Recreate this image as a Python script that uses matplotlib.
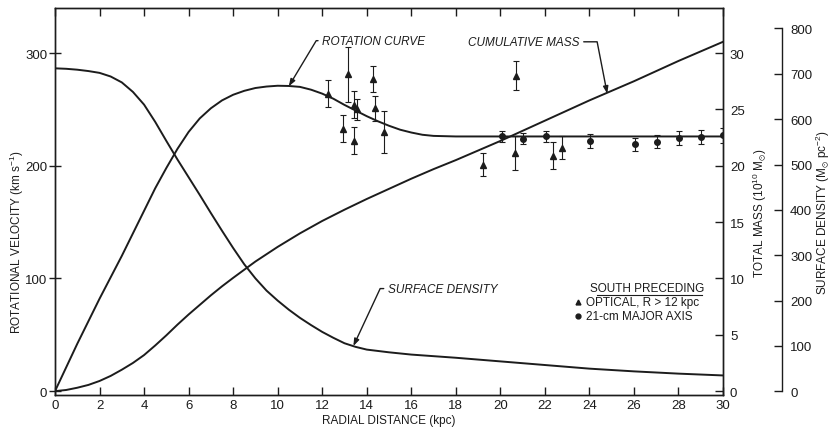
import numpy as np
import matplotlib
matplotlib.use('Agg')
import matplotlib.pyplot as plt

plt.rcParams['font.family'] = ['Liberation Sans', 'DejaVu Sans']
plt.rcParams['mathtext.default'] = 'regular'

# ── 数据─────────────────────────────────────────────
# 旋转曲线 (kpc, km/s)
rot_r = [0, 0.5, 1, 1.5, 2, 2.5, 3, 3.5, 4, 4.5, 5, 5.5, 6, 6.5, 7, 7.5, 8, 8.5,
         9, 9.5, 10, 10.5, 11, 11.5, 12, 12.5, 13, 13.5, 14, 14.5, 15, 15.5,
         16, 16.5, 17, 18, 20, 22, 24, 26, 28, 30]
rot_v = [0, 21, 42, 62, 82, 101, 120, 140, 160, 180, 198, 215, 230, 242, 251,
         258, 263, 266.5, 269, 270.3, 271, 270.8, 270, 267.5, 264, 259.5, 254,
         249, 244, 239.5, 235.5, 232, 229.5, 227.5, 226.5, 226, 226, 226, 226,
         226, 226, 226]

# 累积质量 (kpc, 1e10 Msun)
mass_r = [0, 0.5, 1, 1.5, 2, 2.5, 3, 3.5, 4, 4.5, 5, 5.5, 6, 6.5, 7, 7.5, 8,
          9, 10, 11, 12, 13, 14, 15, 16, 17, 18, 19, 20, 22, 24, 26, 28, 30]
mass_m = [0, 0.1, 0.3, 0.55, 0.9, 1.35, 1.9, 2.5, 3.2, 4.05, 4.95, 5.9, 6.8,
          7.65, 8.5, 9.3, 10.05, 11.5, 12.8, 14.0, 15.1, 16.1, 17.05, 17.95,
          18.85, 19.7, 20.5, 21.35, 22.2, 24.0, 25.8, 27.5, 29.3, 31.0]

# 面密度 (kpc, Msun/pc^2)
sd_r = [0, 0.5, 1, 1.5, 2, 2.5, 3, 3.5, 4, 4.5, 5, 5.5, 6, 6.5, 7, 7.5, 8, 8.5,
        9, 9.5, 10, 10.5, 11, 11.5, 12, 12.5, 13, 13.5, 14, 15, 16, 18, 20, 22,
        24, 26, 28, 30]
sd_s = [712, 711, 709, 706, 702, 694, 681, 660, 632, 594, 552, 511, 472, 433,
        393, 354, 316, 280, 249, 222, 200, 180, 162, 146, 131, 118, 106, 98,
        92, 86, 81, 74, 66, 58, 50, 44, 39, 35]

# 观测点：光学 (三角) 与 21-cm (圆点)
opt_r = [12.24, 12.92, 13.14, 13.43, 13.43, 13.58, 14.27, 14.37, 14.76,
         19.23, 20.66, 20.69, 22.35, 22.75]
opt_v = [264, 233, 281, 222, 254, 250, 277, 251, 230, 201, 211, 280, 209, 216]
opt_e = [12, 12, 24, 12, 12, 9, 11.5, 11, 19, 10, 15, 13, 12, 10]

hi_r = [20.09, 21.03, 22.05, 24.02, 26.04, 27.04, 28.03, 29.0, 30.0]
hi_v = [226, 224, 226, 222, 219, 221.5, 224.5, 225.5, 227]
hi_e = [4.5, 5, 5, 6, 6, 5.5, 6, 6, 6.5]

x_ticks = list(range(0, 31, 2))
v_ticks = [0, 100, 200, 300]
m_ticks = [0, 5, 10, 15, 20, 25, 30]
sd_ticks = [0, 100, 200, 300, 400, 500, 600, 700, 800]

# ── 作图 ─────────────────────────────────────────────────
K = '#1c1c1c'
W, H = 834, 435
fig = plt.figure(figsize=(W / 100, H / 100), dpi=100)
fig.patch.set_facecolor('white')
ax = fig.add_axes([55 / W, 39.5 / H, 668 / W, 386.5 / H])
ax2 = ax.twinx()
ax3 = ax.twinx()

ax.set_xlim(0, 30)
ax.set_ylim(-3, 340)
ax2.set_ylim(-0.3, 34.0)
ax3.set_ylim(-7, 845)

for a in (ax, ax2, ax3):
    for s in a.spines.values():
        s.set_color(K)
        s.set_linewidth(1.0)
ax3.spines['right'].set_position(('axes', 1.088))
ax3.spines['right'].set_bounds(0, 800)
for s in ('left', 'top', 'bottom'):
    ax3.spines[s].set_visible(False)

ax.plot(rot_r, rot_v, color=K, lw=1.4, zorder=3)
ax2.plot(mass_r, mass_m, color=K, lw=1.4)
ax3.plot(sd_r, sd_s, color=K, lw=1.4)

ax.errorbar(opt_r, opt_v, yerr=opt_e, fmt='^', ms=4, color=K,
            elinewidth=0.8, capsize=2.2, capthick=0.8, zorder=4)
ax.errorbar(hi_r, hi_v, yerr=hi_e, fmt='o', ms=4, color=K,
            elinewidth=0.8, capsize=2.2, capthick=0.8, zorder=4)

# 坐标轴刻度
ax.set_xticks(x_ticks)
ax.set_yticks(v_ticks)
ax.tick_params(axis='x', direction='in', length=6, width=1, colors=K,
               labelsize=9.5, top=True, labeltop=False, pad=3)
ax.tick_params(axis='y', direction='inout', length=9, width=1, colors=K,
               labelsize=9.5, pad=1)
ax2.set_yticks(m_ticks)
ax2.tick_params(axis='y', direction='in', length=6, width=1, colors=K,
                labelsize=9.5, pad=5)
ax3.set_yticks(sd_ticks)
ax3.tick_params(axis='y', direction='in', length=6, width=1, colors=K,
                labelsize=9.5, pad=6)

ax.set_xlabel('RADIAL DISTANCE (kpc)', fontsize=8.5, color=K)
ax.xaxis.set_label_coords(0.5, -0.050)
ax.set_ylabel('ROTATIONAL VELOCITY (km s$^{-1}$)', fontsize=8.5, color=K)
ax.yaxis.set_label_coords(-0.043, 0.397)
ax2.set_ylabel('TOTAL MASS (10$^{10}$ M$_{\\odot}$)', fontsize=8.5, color=K)
ax2.yaxis.set_label_coords(1.042, 0.472)
ax3.set_ylabel('SURFACE DENSITY (M$_{\\odot}$ pc$^{-2}$)', fontsize=8.5, color=K)
ax3.yaxis.set_label_coords(1.136, 0.472)

# 曲线标注
arrow = dict(arrowstyle='-|>,head_length=0.5,head_width=0.18', color=K,
             lw=1.0, shrinkA=1, shrinkB=0)
ax.annotate('ROTATION CURVE', xy=(10.5, 270.5), xytext=(12.0, 311),
            fontsize=8.5, style='italic', color=K, ha='left', va='center',
            arrowprops=dict(arrow, relpos=(0, 0.5),
                            connectionstyle='angle,angleA=0,angleB=59,rad=0'))
ax.annotate('CUMULATIVE MASS', xy=(24.8, 264), xytext=(18.55, 310),
            fontsize=8.5, style='italic', color=K, ha='left', va='center',
            arrowprops=dict(arrow, relpos=(1, 0.5),
                            connectionstyle='angle,angleA=0,angleB=101,rad=0'))
ax.annotate('SURFACE DENSITY', xy=(13.4, 40), xytext=(14.95, 91),
            fontsize=8.5, style='italic', color=K, ha='left', va='center',
            arrowprops=dict(arrow, relpos=(0, 0.5),
                            connectionstyle='angle,angleA=0,angleB=65,rad=0'))

# 图例
ax.text(0.886, 0.2755, 'SOUTH PRECEDING', transform=ax.transAxes,
        fontsize=8.5, color=K, ha='center', va='center')
ax.plot([0.811, 0.968], [0.257, 0.257], transform=ax.transAxes, color=K,
        lw=0.8, clip_on=False)
ax.plot([0.783], [0.239], marker='^', ms=3.5, color=K, transform=ax.transAxes)
ax.plot([0.783], [0.203], marker='o', ms=3.5, color=K, transform=ax.transAxes)
ax.text(0.795, 0.239, 'OPTICAL, R > 12 kpc', transform=ax.transAxes,
        fontsize=8.5, color=K, ha='left', va='center')
ax.text(0.795, 0.203, '21-cm MAJOR AXIS', transform=ax.transAxes,
        fontsize=8.5, color=K, ha='left', va='center')

fig.savefig('out.png', dpi=100, facecolor='white')
